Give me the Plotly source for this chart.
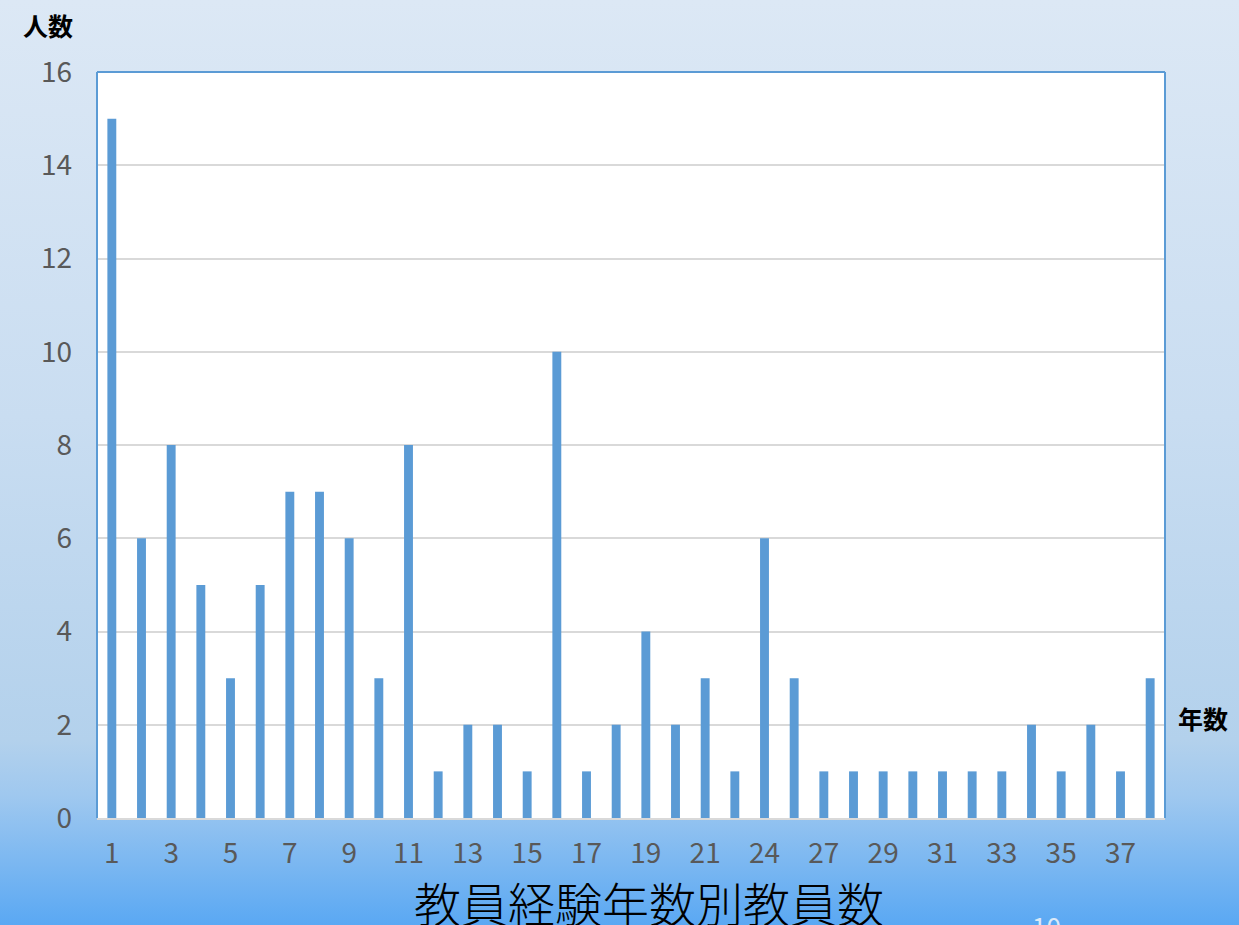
import base64
import plotly.graph_objects as go

# Years of teaching experience (category labels) and number of teachers
years = ["1", "2", "3", "4", "5", "6", "7", "8", "9", "10",
         "11", "12", "13", "14", "15", "16", "17", "18", "19", "20",
         "21", "22", "24", "25", "27", "28", "29", "30", "31", "32",
         "33", "34", "35", "36", "37", "38"]
teachers = [15, 6, 8, 5, 3, 5, 7, 7, 6, 3,
            8, 1, 2, 2, 1, 10, 1, 2, 4, 2,
            3, 1, 6, 3, 1, 1, 1, 1, 1, 1,
            1, 2, 1, 2, 1, 3]
y_ticks = [0, 2, 4, 6, 8, 10, 12, 14, 16]

W, H = 1239, 925
L, R, T, B = 97, 74, 72, 107

# Slide-style vertical gradient background
svg = (
    '<svg xmlns="http://www.w3.org/2000/svg" width="100" height="100" preserveAspectRatio="none">'
    '<defs><linearGradient id="g" x1="0" y1="0" x2="0" y2="1">'
    '<stop offset="0" stop-color="#dce8f5"/>'
    '<stop offset="0.45" stop-color="#c9ddf1"/>'
    '<stop offset="0.80" stop-color="#b3d1ec"/>'
    '<stop offset="0.86" stop-color="#9fc8ef"/>'
    '<stop offset="1" stop-color="#5aa8f3"/>'
    '</linearGradient></defs>'
    '<rect width="100" height="100" fill="url(#g)"/></svg>'
)
bg_src = "data:image/svg+xml;base64," + base64.b64encode(svg.encode()).decode()

pw, ph = W - L - R, H - T - B
x0 = -L / pw
y_top = 1 + T / ph

fig = go.Figure(
    go.Bar(
        x=years,
        y=teachers,
        marker=dict(color="#5b9bd5", line=dict(width=0)),
        width=0.3,
    )
)

tick_font = dict(family="Noto Sans CJK JP, Noto Sans, sans-serif", size=28, color="#595959")

fig.update_layout(
    width=W,
    height=H,
    margin=dict(l=L, r=R, t=T, b=B),
    paper_bgcolor="rgba(0,0,0,0)",
    plot_bgcolor="rgba(0,0,0,0)",
    showlegend=False,
    font=dict(family="Noto Sans CJK JP, Noto Sans, sans-serif", color="#595959"),
    images=[dict(
        source=bg_src, xref="paper", yref="paper",
        x=x0, y=y_top, sizex=W / pw, sizey=H / ph,
        xanchor="left", yanchor="top", sizing="stretch", layer="below",
    )],
    xaxis=dict(
        type="category",
        categoryorder="array",
        categoryarray=years,
        tickmode="array",
        tickvals=years[::2],
        ticktext=years[::2],
        tickfont=tick_font,
        ticks="",
        ticklabelstandoff=9,
        showgrid=False,
        showline=True,
        linecolor="#d9d9d9",
        linewidth=2,
        zeroline=False,
    ),
    yaxis=dict(
        range=[0, 16],
        tickmode="array",
        tickvals=y_ticks,
        tickfont=tick_font,
        ticklabelstandoff=24,
        showgrid=True,
        gridcolor="#d9d9d9",
        gridwidth=1.5,
        zeroline=False,
        showline=False,
    ),
    shapes=[
        # white plotting area sitting above the gradient
        dict(type="rect", xref="paper", yref="paper", x0=0, x1=1, y0=0, y1=1,
             fillcolor="white", line=dict(width=0), layer="below"),
        # blue frame on top, left and right of the plotting area
        dict(type="line", xref="paper", yref="paper", x0=0, x1=1, y0=1, y1=1,
             line=dict(color="#5b9bd5", width=2)),
        dict(type="line", xref="paper", yref="paper", x0=0, x1=0, y0=0, y1=1,
             line=dict(color="#5b9bd5", width=2)),
        dict(type="line", xref="paper", yref="paper", x0=1, x1=1, y0=0, y1=1,
             line=dict(color="#5b9bd5", width=2)),
    ],
    annotations=[
        dict(text="<b>人数</b>", xref="paper", yref="paper",
             x=(48 - L) / pw, y=1 + (T - 25) / ph, xanchor="center", yanchor="middle",
             showarrow=False, font=dict(size=25, color="#000000")),
        dict(text="<b>年数</b>", xref="paper", yref="paper",
             x=(1203 - L) / pw, y=(H - B - 718) / ph, xanchor="center", yanchor="middle",
             showarrow=False, font=dict(size=25, color="#000000")),
        dict(text="教員経験年数別教員数", xref="paper", yref="paper",
             x=(649 - L) / pw, y=(H - B - 901) / ph, xanchor="center", yanchor="middle",
             showarrow=False, font=dict(size=47, color="#000000", weight=300)),
        dict(text="10", xref="paper", yref="paper",
             x=(1046 - L) / pw, y=(H - B - 925) / ph, xanchor="center", yanchor="middle",
             showarrow=False, font=dict(size=26, color="#dce9f8")),
    ],
)

fig.write_html("out.html")
